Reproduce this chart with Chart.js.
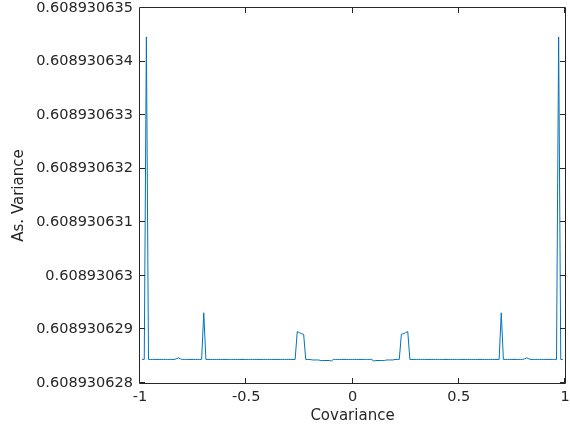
<!DOCTYPE html>
<html>
<head>
<meta charset="utf-8">
<script src="https://cdn.jsdelivr.net/npm/chart.js@4"></script>
<style>
  html, body { margin: 0; padding: 0; background: #fff; }
  #wrap { width: 570px; height: 433px; }
</style>
</head>
<body>
<div id="wrap"><canvas id="plot"></canvas></div>
<script>
// covariance grid (x) and asymptotic variance (y)
const covariance = [
  -0.99, -0.98, -0.97, -0.96, -0.95, -0.94, -0.93, -0.92, -0.91, -0.90,
  -0.89, -0.88, -0.87, -0.86, -0.85, -0.84, -0.83, -0.82, -0.81, -0.80,
  -0.79, -0.78, -0.77, -0.76, -0.75, -0.74, -0.73, -0.72, -0.71, -0.70,
  -0.69, -0.68, -0.67, -0.66, -0.65, -0.64, -0.63, -0.62, -0.61, -0.60,
  -0.59, -0.58, -0.57, -0.56, -0.55, -0.54, -0.53, -0.52, -0.51, -0.50,
  -0.49, -0.48, -0.47, -0.46, -0.45, -0.44, -0.43, -0.42, -0.41, -0.40,
  -0.39, -0.38, -0.37, -0.36, -0.35, -0.34, -0.33, -0.32, -0.31, -0.30,
  -0.29, -0.28, -0.27, -0.26, -0.25, -0.24, -0.23, -0.22, -0.21, -0.20,
  -0.19, -0.18, -0.17, -0.16, -0.15, -0.14, -0.13, -0.12, -0.11, -0.10,
  -0.09, -0.08, -0.07, -0.06, -0.05, -0.04, -0.03, -0.02, -0.01, 0.00,
  0.01, 0.02, 0.03, 0.04, 0.05, 0.06, 0.07, 0.08, 0.09, 0.10,
  0.11, 0.12, 0.13, 0.14, 0.15, 0.16, 0.17, 0.18, 0.19, 0.20,
  0.21, 0.22, 0.23, 0.24, 0.25, 0.26, 0.27, 0.28, 0.29, 0.30,
  0.31, 0.32, 0.33, 0.34, 0.35, 0.36, 0.37, 0.38, 0.39, 0.40,
  0.41, 0.42, 0.43, 0.44, 0.45, 0.46, 0.47, 0.48, 0.49, 0.50,
  0.51, 0.52, 0.53, 0.54, 0.55, 0.56, 0.57, 0.58, 0.59, 0.60,
  0.61, 0.62, 0.63, 0.64, 0.65, 0.66, 0.67, 0.68, 0.69, 0.70,
  0.71, 0.72, 0.73, 0.74, 0.75, 0.76, 0.77, 0.78, 0.79, 0.80,
  0.81, 0.82, 0.83, 0.84, 0.85, 0.86, 0.87, 0.88, 0.89, 0.90,
  0.91, 0.92, 0.93, 0.94, 0.95, 0.96, 0.97, 0.98, 0.99
];

const asVariance = [
  0.60893062844, 0.60893062844, 0.60893063446, 0.60893062844, 0.60893062844, 0.60893062844, 0.60893062844, 0.60893062844, 0.60893062844, 0.60893062844,
  0.60893062844, 0.60893062844, 0.60893062844, 0.60893062844, 0.60893062844, 0.60893062844, 0.60893062845, 0.60893062847, 0.60893062845, 0.60893062844,
  0.60893062844, 0.60893062844, 0.60893062844, 0.60893062844, 0.60893062844, 0.60893062844, 0.60893062844, 0.60893062844, 0.60893062844, 0.60893062931,
  0.60893062844, 0.60893062844, 0.60893062844, 0.60893062844, 0.60893062844, 0.60893062844, 0.60893062844, 0.60893062844, 0.60893062844, 0.60893062844,
  0.60893062844, 0.60893062844, 0.60893062844, 0.60893062844, 0.60893062844, 0.60893062844, 0.60893062844, 0.60893062844, 0.60893062844, 0.60893062844,
  0.60893062844, 0.60893062844, 0.60893062844, 0.60893062844, 0.60893062844, 0.60893062844, 0.60893062844, 0.60893062844, 0.60893062844, 0.60893062844,
  0.60893062844, 0.60893062844, 0.60893062844, 0.60893062844, 0.60893062844, 0.60893062844, 0.60893062844, 0.60893062844, 0.60893062844, 0.60893062844,
  0.60893062844, 0.60893062844, 0.60893062844, 0.60893062896, 0.60893062894, 0.60893062892, 0.60893062891, 0.60893062844, 0.60893062844, 0.60893062844,
  0.60893062843, 0.60893062843, 0.60893062843, 0.60893062843, 0.60893062842, 0.60893062842, 0.60893062842, 0.60893062842, 0.60893062842, 0.60893062841,
  0.60893062844, 0.60893062844, 0.60893062844, 0.60893062844, 0.60893062844, 0.60893062844, 0.60893062844, 0.60893062844, 0.60893062844, 0.60893062844,
  0.60893062844, 0.60893062844, 0.60893062844, 0.60893062844, 0.60893062844, 0.60893062844, 0.60893062844, 0.60893062844, 0.60893062844, 0.60893062841,
  0.60893062842, 0.60893062842, 0.60893062842, 0.60893062842, 0.60893062842, 0.60893062843, 0.60893062843, 0.60893062843, 0.60893062843, 0.60893062844,
  0.60893062844, 0.60893062844, 0.60893062891, 0.60893062892, 0.60893062894, 0.60893062896, 0.60893062844, 0.60893062844, 0.60893062844, 0.60893062844,
  0.60893062844, 0.60893062844, 0.60893062844, 0.60893062844, 0.60893062844, 0.60893062844, 0.60893062844, 0.60893062844, 0.60893062844, 0.60893062844,
  0.60893062844, 0.60893062844, 0.60893062844, 0.60893062844, 0.60893062844, 0.60893062844, 0.60893062844, 0.60893062844, 0.60893062844, 0.60893062844,
  0.60893062844, 0.60893062844, 0.60893062844, 0.60893062844, 0.60893062844, 0.60893062844, 0.60893062844, 0.60893062844, 0.60893062844, 0.60893062844,
  0.60893062844, 0.60893062844, 0.60893062844, 0.60893062844, 0.60893062844, 0.60893062844, 0.60893062844, 0.60893062844, 0.60893062844, 0.60893062931,
  0.60893062844, 0.60893062844, 0.60893062844, 0.60893062844, 0.60893062844, 0.60893062844, 0.60893062844, 0.60893062844, 0.60893062844, 0.60893062844,
  0.60893062845, 0.60893062847, 0.60893062845, 0.60893062844, 0.60893062844, 0.60893062844, 0.60893062844, 0.60893062844, 0.60893062844, 0.60893062844,
  0.60893062844, 0.60893062844, 0.60893062844, 0.60893062844, 0.60893062844, 0.60893062844, 0.60893063446, 0.60893062844, 0.60893062844
];

const xTicks = [-1, -0.5, 0, 0.5, 1];
const xTickLabels = ["-1", "-0.5", "0", "0.5", "1"];
const yTicks = [0.608930628, 0.608930629, 0.60893063, 0.608930631, 0.608930632, 0.608930633, 0.608930634, 0.608930635];
const yTickLabels = ["0.608930628", "0.608930629", "0.60893063", "0.608930631", "0.608930632", "0.608930633", "0.608930634", "0.608930635"];

const axisColor = "#262626";
const fontFamily = "'DejaVu Sans', sans-serif";

// matlab style box with inward ticks on all four sides
const boxPlugin = {
  id: "box",
  afterDraw(chart) {
    const { ctx, chartArea: a, scales } = chart;
    const len = 5;
    ctx.save();
    ctx.strokeStyle = axisColor;
    ctx.lineWidth = 1;
    ctx.beginPath();
    ctx.rect(a.left - 0.5, a.top - 0.5, a.right - a.left + 1, a.bottom - a.top + 1);
    xTicks.forEach(v => {
      const px = Math.round(scales.x.getPixelForValue(v)) - 0.5;
      ctx.moveTo(px, a.bottom);
      ctx.lineTo(px, a.bottom - len);
      ctx.moveTo(px, a.top);
      ctx.lineTo(px, a.top + len);
    });
    yTicks.forEach(v => {
      const py = Math.round(scales.y.getPixelForValue(v)) - 0.5;
      ctx.moveTo(a.left, py);
      ctx.lineTo(a.left + len, py);
      ctx.moveTo(a.right, py);
      ctx.lineTo(a.right - len, py);
    });
    ctx.stroke();
    ctx.restore();
  }
};

const points = covariance.map((c, i) => ({ x: c, y: asVariance[i] }));

new Chart(document.getElementById("plot"), {
  type: "line",
  data: {
    datasets: [{
      data: points,
      borderColor: "#0072BD",
      borderWidth: 1,
      pointRadius: 0,
      tension: 0,
      fill: false
    }]
  },
  options: {
    responsive: true,
    maintainAspectRatio: false,
    animation: false,
    layout: { padding: { top: 8, right: 5, left: 0, bottom: 0 } },
    plugins: {
      legend: { display: false },
      tooltip: { enabled: false }
    },
    scales: {
      x: {
        type: "linear",
        min: -1,
        max: 1,
        afterBuildTicks: s => { s.ticks = xTicks.map(v => ({ value: v })); },
        afterFit: s => { s.height = 50; s.paddingLeft = 0; s.paddingRight = 0; },
        grid: { display: false, drawTicks: false },
        border: { display: false },
        ticks: {
          autoSkip: false,
          maxRotation: 0,
          padding: 6,
          color: axisColor,
          font: { family: fontFamily, size: 14.5 },
          callback: (v, i) => xTickLabels[i]
        },
        title: {
          display: true,
          text: "Covariance",
          color: axisColor,
          font: { family: fontFamily, size: 15 },
          padding: { top: 0, bottom: 8 }
        }
      },
      y: {
        type: "linear",
        min: 0.608930628,
        max: 0.608930635,
        afterBuildTicks: s => { s.ticks = yTicks.map(v => ({ value: v })); },
        afterFit: s => { s.width = 140; s.paddingTop = 0; s.paddingBottom = 0; },
        grid: { display: false, drawTicks: false },
        border: { display: false },
        ticks: {
          autoSkip: false,
          padding: 7,
          color: axisColor,
          font: { family: fontFamily, size: 14.5 },
          callback: (v, i) => yTickLabels[i]
        },
        title: {
          display: true,
          text: "As. Variance",
          color: axisColor,
          font: { family: fontFamily, size: 15 },
          padding: { top: 10, bottom: 0 }
        }
      }
    }
  },
  plugins: [boxPlugin]
});
</script>
</body>
</html>
